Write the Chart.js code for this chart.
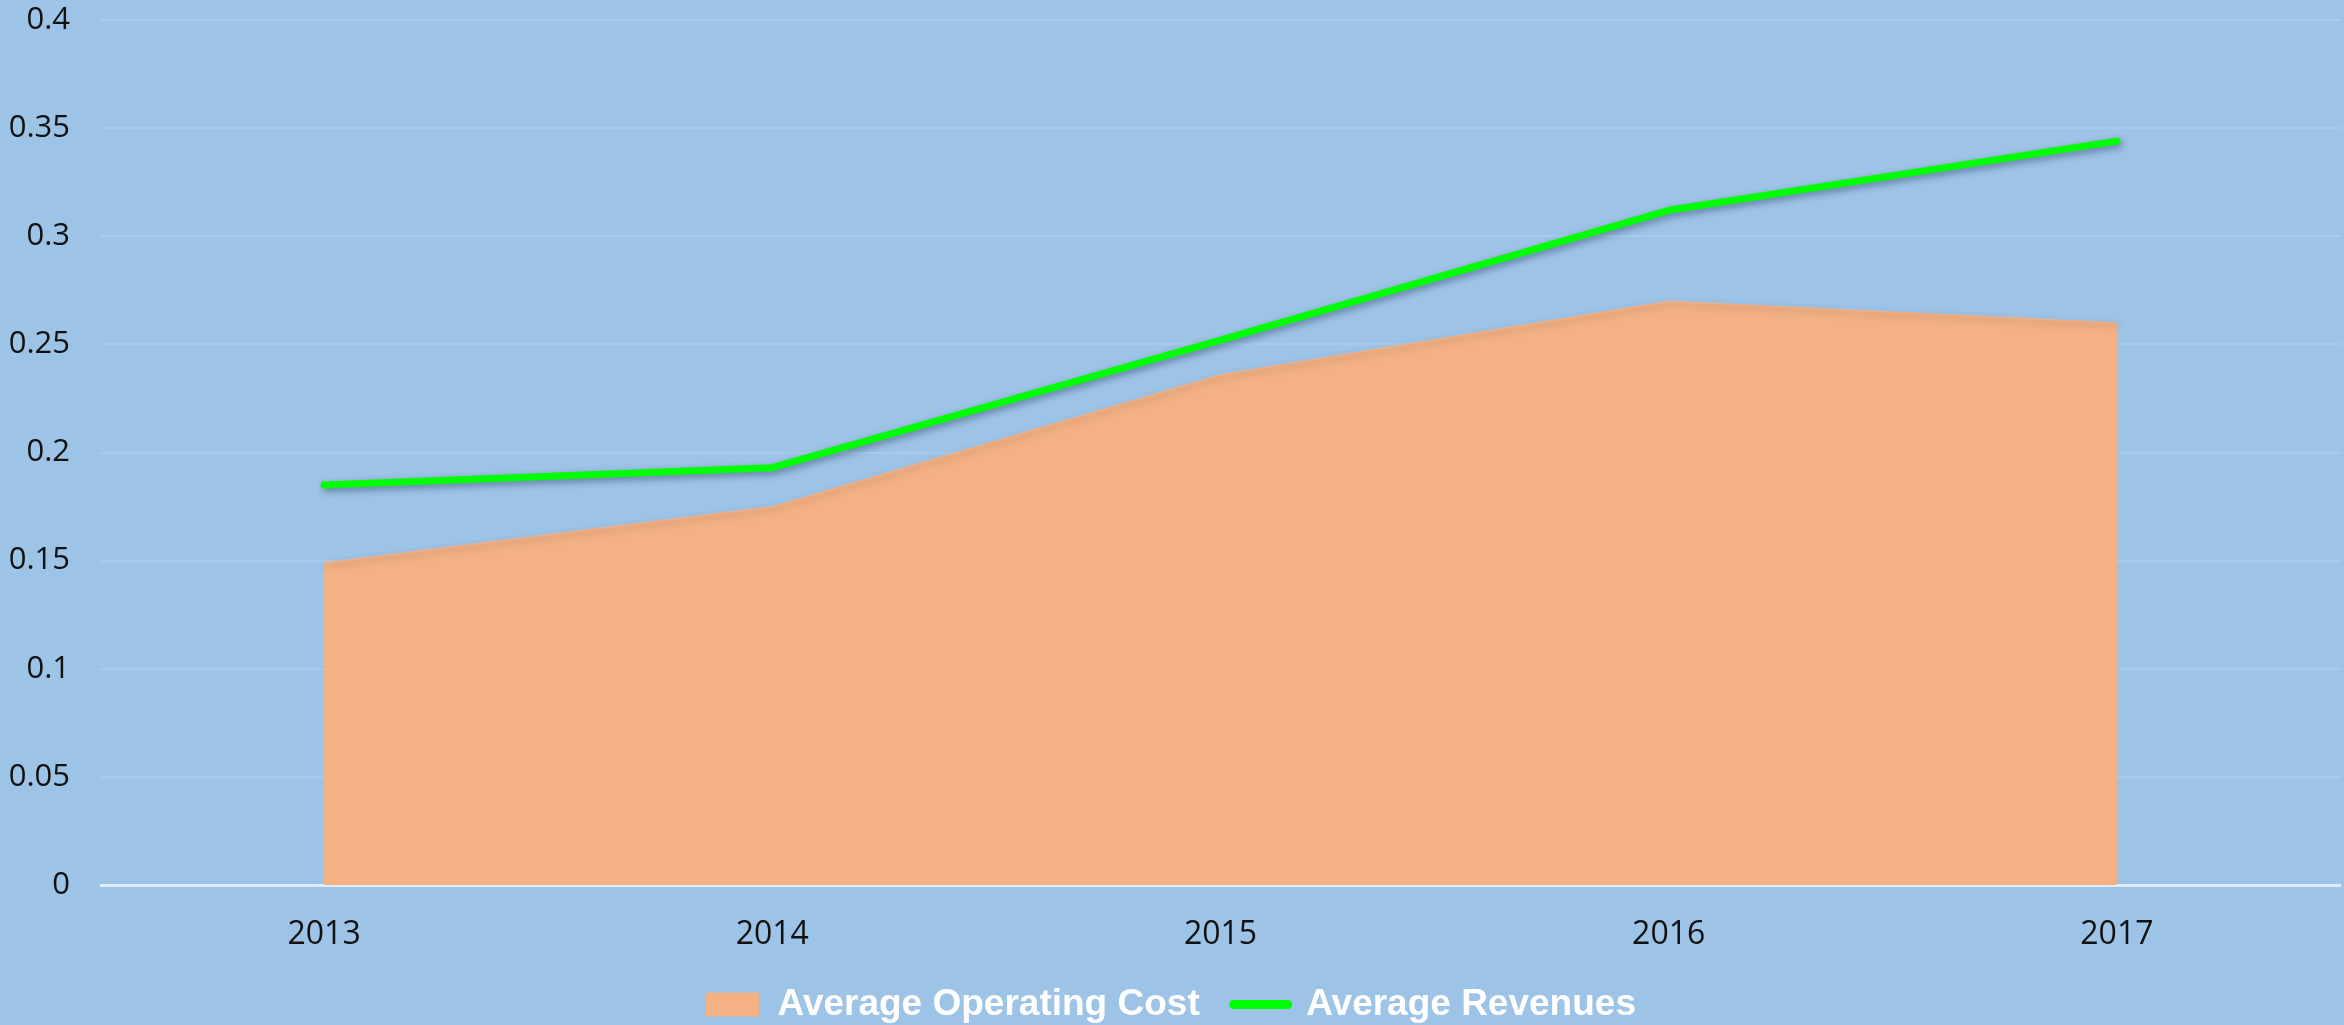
<!DOCTYPE html>
<html>
<head>
<meta charset="utf-8">
<script src="https://cdn.jsdelivr.net/npm/chart.js@4"></script>
<style>
  html, body { margin:0; padding:0; background:#9dc3e6; overflow:hidden; }
  #wrap { width:2344px; height:1025px; }
</style>
</head>
<body>
<div id="wrap"><canvas id="chart" width="2344" height="1025"></canvas></div>
<script>
/* data */
const years = ['2013','2014','2015','2016','2017'];
const opCost = [0.149, 0.175, 0.236, 0.270, 0.260];
const revenues = [0.185, 0.193, 0.252, 0.312, 0.344];
const yTicks = [0, 0.05, 0.1, 0.15, 0.2, 0.25, 0.3, 0.35, 0.4];

// excel-like drop shadow under the series
const shadowPlugin = {
  id:'shadow',
  beforeDatasetDraw(chart){
    const c = chart.ctx;
    c.save();
    c.shadowColor = 'rgba(20,40,70,0.45)';
    c.shadowBlur = 7;
    c.shadowOffsetX = 2;
    c.shadowOffsetY = 3;
  },
  afterDatasetDraw(chart){ chart.ctx.restore(); }
};

new Chart(document.getElementById('chart'), {
  type:'line',
  data:{ labels:years, datasets:[
    {label:'Average Operating Cost', data:opCost, fill:'origin', backgroundColor:'#f4b183', borderColor:'#f4b183',
     borderWidth:1, pointRadius:0, pointStyle:'rect', tension:0, order:2},
    {label:'Average Revenues', data:revenues, fill:false, borderColor:'#00ff00', backgroundColor:'#00ff00',
     borderWidth:7, borderCapStyle:'round', borderJoinStyle:'round', pointRadius:0, pointStyle:'line', tension:0, order:1}
  ]},
  options:{
    responsive:false, animation:false,
    layout:{ padding:{top:0, left:0, right:3, bottom:-8} },
    plugins:{
      tooltip:{enabled:false},
      legend:{
        position:'bottom',
        labels:{
          usePointStyle:true, pointStyleWidth:54, boxHeight:24, padding:34,
          color:'#ffffff', font:{family:'Liberation Sans', size:37, weight:'bold'},
          sort:(a,b)=>a.datasetIndex-b.datasetIndex,
          generateLabels(chart){
            const items = Chart.defaults.plugins.legend.labels.generateLabels(chart);
            items.forEach(it=>{
              if(it.datasetIndex===0){ it.pointStyle='rect'; it.fillStyle='#f4b183'; it.lineWidth=0; }
              else { it.pointStyle='line'; it.strokeStyle='#00ff00'; it.lineWidth=9; it.lineCap='round'; }
            });
            return items;
          }
        }
      }
    },
    scales:{
      x:{
        offset:true,
        grid:{display:false, drawTicks:false},
        border:{display:false},
        afterFit(axis){ axis.height = 67; },
        ticks:{color:'#111', padding:31, font:{family:'Open Sans', size:32}}
      },
      y:{
        min:0, max:0.4,
        afterBuildTicks(axis){ axis.ticks = yTicks.map(v=>({value:v})); },
        afterFit(axis){ axis.width = 100; axis.paddingTop = 20; axis.paddingBottom = 10; },
        border:{display:false},
        grid:{
          drawTicks:false,
          color:c=>c.tick && c.tick.value===0 ? 'rgba(235,243,252,0.85)' : 'rgba(255,255,255,0.13)',
          lineWidth:c=>c.tick && c.tick.value===0 ? 3 : 2
        },
        ticks:{color:'#111', padding:30, font:{family:'Open Sans', size:31},
          callback:v=>String(Math.round(v*100)/100)}
      }
    }
  },
  plugins:[shadowPlugin]
});
</script>
</body>
</html>
